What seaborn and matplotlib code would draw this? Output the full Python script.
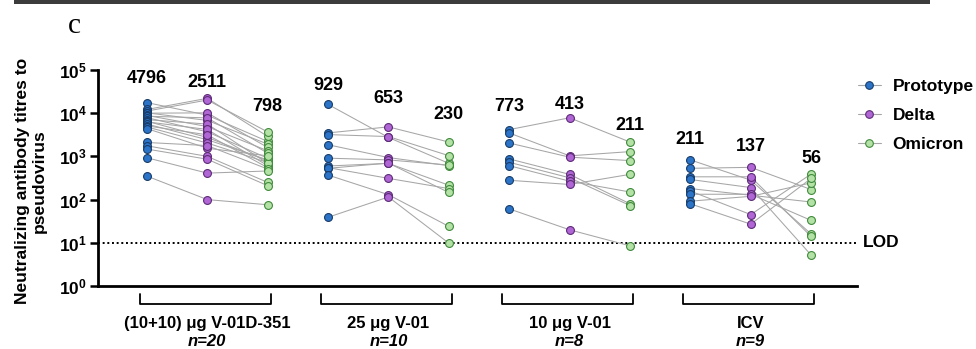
import numpy as np
import pandas as pd
import matplotlib
matplotlib.use("Agg")
import matplotlib.pyplot as plt
from matplotlib.lines import Line2D
from matplotlib.patches import Rectangle
from matplotlib.ticker import FixedLocator, FixedFormatter, NullLocator
import matplotlib.transforms as mtransforms
import seaborn as sns

# ---------------------------------------------------------------- data
groups = ["(10+10) μg V-01D-351", "25 μg V-01", "10 μg V-01", "ICV"]
group_sizes = ["n=20", "n=10", "n=8", "n=9"]
variants = ["Prototype", "Delta", "Omicron"]

# Titres per subject; the i-th entry of each variant list is the same subject
v01d351_prototype = [17600, 12200, 11200, 10200, 10000, 8900, 8500, 7900, 7100, 6500,
                     6300, 5600, 5100, 4800, 4400, 2100, 1760, 1480, 930, 350]
v01d351_delta = [9000, 22100, 20200, 6800, 10200, 4900, 7800, 3700, 5600, 2750,
                 4200, 2430, 3160, 2040, 1550, 1780, 1000, 860, 410, 100]
v01d351_omicron = [2220, 2900, 3680, 1930, 1610, 1350, 1190, 910, 690, 790,
                   610, 830, 550, 720, 1030, 510, 250, 210, 460, 76]

v01_25_prototype = [16000, 3500, 3200, 1860, 910, 600, 550, 530, 370, 39]
v01_25_delta = [2750, 4820, 2880, 940, 830, 690, 310, 700, 130, 115]
v01_25_omicron = [690, 2150, 1040, 610, 630, 215, 180, 146, 24, 9.8]

v01_10_prototype = [4170, 3490, 2040, 875, 730, 610, 280, 61]
v01_10_delta = [7830, 1030, 960, 384, 320, 267, 224, 20]
v01_10_omicron = [2150, 1290, 800, 80, 73, 150, 384, 8.5]

icv_prototype = [830, 530, 337, 292, 180, 158, 133, 92, 80]
icv_delta = [282, 558, 337, 190, 126, 45, 133, 119, 27]
icv_omicron = [16, 171, 14, 5.2, 88, 390, 33, 244, 309]

# Geometric mean titres printed above each column
gmt_values = [[4796, 2511, 798], [929, 653, 230], [773, 413, 211], [211, 137, 56]]

lod_value = 10

# ---------------------------------------------------------------- table
titres = [
    [v01d351_prototype, v01d351_delta, v01d351_omicron],
    [v01_25_prototype, v01_25_delta, v01_25_omicron],
    [v01_10_prototype, v01_10_delta, v01_10_omicron],
    [icv_prototype, icv_delta, icv_omicron],
]
rows = []
for g, group in enumerate(groups):
    for v, variant in enumerate(variants):
        for s, val in enumerate(titres[g][v]):
            rows.append({"group": group, "variant": variant,
                         "pos": g * 3 + v, "subject": f"{g}-{s}", "titre": val})
df = pd.DataFrame(rows)

# ---------------------------------------------------------------- style
sns.set_theme(style="ticks")
plt.rcParams["font.family"] = ["Liberation Sans", "DejaVu Sans"]
plt.rcParams["font.weight"] = "bold"
plt.rcParams["mathtext.fontset"] = "custom"
plt.rcParams["mathtext.rm"] = "Liberation Sans"
plt.rcParams["mathtext.it"] = "Liberation Sans:italic"
plt.rcParams["mathtext.bf"] = "Liberation Sans:bold"
for key in ("text.color", "axes.labelcolor", "xtick.color", "ytick.color", "axes.edgecolor"):
    plt.rcParams[key] = "black"

fills = {"Prototype": "#2b74c8", "Delta": "#b066d4", "Omicron": "#b4e2a6"}
edges = {"Prototype": "#173c6a", "Delta": "#5d2b78", "Omicron": "#3f8a3b"}
link_color = "#a6a6a6"

fig = plt.figure(figsize=(9.76, 3.49), dpi=100)
ax = fig.add_axes([98 / 976, 1 - 286 / 349, 759 / 976, 216 / 349])
ax.set_yscale("log")

# subject trajectories
sns.lineplot(data=df, x="pos", y="titre", units="subject", estimator=None,
             color=link_color, lw=0.75, ax=ax, legend=False, zorder=2)

# points per variant
for variant in variants:
    sub = df[df["variant"] == variant]
    sns.scatterplot(data=sub, x="pos", y="titre", color=fills[variant],
                    edgecolor=edges[variant], linewidth=0.8, s=32,
                    ax=ax, legend=False, zorder=3)

# limit of detection
ax.axhline(lod_value, color="black", lw=1.4, ls=(0, (1, 1.4)), zorder=1)
ax.text(1.008, lod_value, "LOD",
        transform=mtransforms.blended_transform_factory(ax.transAxes, ax.transData),
        ha="left", va="center", fontsize=12.5, fontweight="bold")

# GMT annotations
gmt_label_log = [[4.81, 4.72, 4.16], [4.63, 4.33, 3.98], [4.16, 4.19, 3.72], [3.40, 3.23, 2.95]]
for g in range(len(groups)):
    for v in range(len(variants)):
        ax.text(g * 3 + v, 10 ** gmt_label_log[g][v], f"{gmt_values[g][v]}",
                ha="center", va="center", fontsize=13, fontweight="bold")

# axes
ax.set_xlim(-0.81, 11.76)
ax.set_ylim(1, 1e5)
ax.yaxis.set_major_locator(FixedLocator([10 ** k for k in range(6)]))
ax.yaxis.set_major_formatter(FixedFormatter([rf"$\mathbf{{10^{{{k}}}}}$" for k in range(6)]))
ax.yaxis.set_minor_locator(NullLocator())
ax.set_xticks([])
ax.set_xlabel("")
ax.set_ylabel("")
ax.tick_params(axis="y", length=6, width=1.8, labelsize=12.5, pad=2)
for side in ("top", "right"):
    ax.spines[side].set_visible(False)
for side in ("left", "bottom"):
    ax.spines[side].set_linewidth(2.0)
ax.patch.set_alpha(0)

# group brackets and labels under the axis
xt = ax.get_xaxis_transform()
for g, group in enumerate(groups):
    x0, x1 = g * 3 - 0.12, g * 3 + 2.05
    ax.plot([x0, x0, x1, x1], [-0.037, -0.085, -0.085, -0.037], transform=xt,
            color="black", lw=1.3, clip_on=False)
    ax.text(g * 3 + 1, -0.175, group, transform=xt, ha="center", va="center",
            fontsize=12, fontweight="bold")
    ax.text(g * 3 + 1, -0.258, group_sizes[g], transform=xt, ha="center", va="center",
            fontsize=12, fontweight="bold", fontstyle="italic")

# legend
handles = [Line2D([0], [0], color=link_color, lw=0.8, marker="o", markersize=5.5,
                  markerfacecolor=fills[v], markeredgecolor=edges[v], markeredgewidth=0.8)
           for v in variants]
fig.legend(handles, variants, loc="upper left", bbox_to_anchor=(858 / 976, 1 - 79 / 349),
           frameon=False, handlelength=1.3, handletextpad=0.7, labelspacing=0.8,
           prop={"size": 12.5, "weight": "bold"}, borderaxespad=0, borderpad=0)

# y label
fig.text(31 / 976, 1 - 181 / 349, "Neutralizing antibody titres to\npseudovirus",
         rotation=90, ha="center", va="center", multialignment="center",
         fontsize=12.5, fontweight="bold", linespacing=1.1)

# panel letter and header bar
fig.text(68 / 976, 1 - 26 / 349, "c", fontsize=21, family="Liberation Serif",
         fontweight="normal", ha="left", va="center")
fig.add_artist(Rectangle((14 / 976, 1 - 4 / 349), 916 / 976, 4 / 349,
                         transform=fig.transFigure, color="#3c3c3c", lw=0))

fig.savefig("out.png", dpi=100)
